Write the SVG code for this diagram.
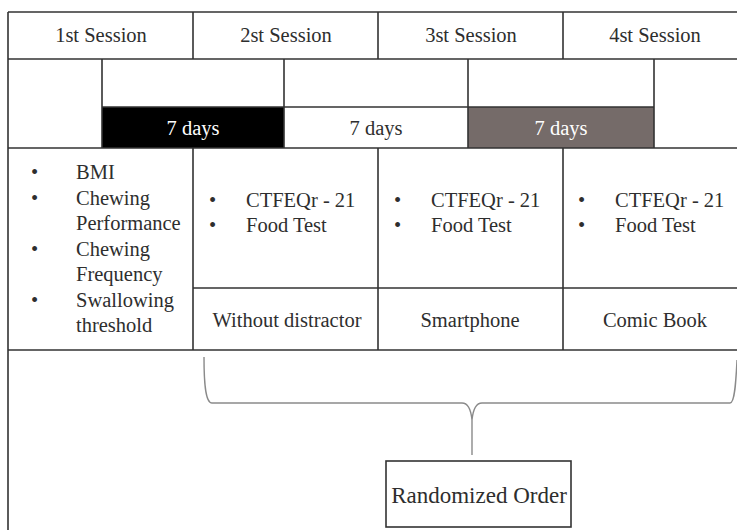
<svg xmlns="http://www.w3.org/2000/svg" width="737" height="530" viewBox="0 0 737 530">
<style>
text{font-family:'Liberation Serif',serif;font-size:20.5px;fill:#2e2e2e}
.c{text-anchor:middle}
.w{fill:#ffffff}
.g{stroke:#333;stroke-width:1.6;fill:none}
.brace{stroke:#8a8a8a;stroke-width:1.4;fill:none}
</style>
<rect width="737" height="530" fill="#fff"/>
<g id="grid">
<rect x="102" y="107" width="182" height="41" fill="#000"/>
<rect x="468" y="107" width="186" height="41" fill="#756b69"/>
<path class="g" d="M8,12 H737 M8,12 V530 M8,59 H737 M8,148 H737 M8,350 H737 M193,12 V59 M378,12 V59 M563,12 V59 M102,59 V148 M284,59 V148 M468,59 V148 M654,59 V148 M102,107 H654 M193,148 V350 M378,148 V350 M563,148 V350 M193,288 H737"/>
</g>
<g font-family="Liberation Serif, serif" font-size="20.5">
<g id="session1"><text class="c" x="101" y="42">1st Session</text></g>
<g id="session2"><text class="c" x="286" y="42">2st Session</text></g>
<g id="session3"><text class="c" x="471" y="42">3st Session</text></g>
<g id="session4"><text class="c" x="655" y="42">4st Session</text></g>
<g id="interval1"><text class="c w" x="193" y="135">7 days</text></g>
<g id="interval2"><text class="c" x="376" y="135">7 days</text></g>
<g id="interval3"><text class="c w" x="561" y="135">7 days</text></g>
<g id="baseline">
<text x="31" y="179">•</text><text x="76" y="179">BMI</text>
<text x="31" y="204.5">•</text><text x="76" y="204.5">Chewing</text>
<text x="76" y="230">Performance</text>
<text x="31" y="255.5">•</text><text x="76" y="255.5">Chewing</text>
<text x="76" y="281">Frequency</text>
<text x="31" y="306.5">•</text><text x="76" y="306.5">Swallowing</text>
<text x="76" y="332">threshold</text>
</g>
<g id="tests2">
<text x="209" y="207">•</text><text x="246" y="207">CTFEQr - 21</text>
<text x="209" y="232">•</text><text x="246" y="232">Food Test</text>
</g>
<g id="tests3">
<text x="394" y="207">•</text><text x="431" y="207">CTFEQr - 21</text>
<text x="394" y="232">•</text><text x="431" y="232">Food Test</text>
</g>
<g id="tests4">
<text x="578" y="207">•</text><text x="615" y="207">CTFEQr - 21</text>
<text x="578" y="232">•</text><text x="615" y="232">Food Test</text>
</g>
<g id="cond1"><text class="c" x="287" y="327">Without distractor</text></g>
<g id="cond2"><text class="c" x="470" y="327">Smartphone</text></g>
<g id="cond3"><text class="c" x="655" y="327">Comic Book</text></g>
</g>
<g id="connectors">
<path class="brace" d="M204,357 C204,380 205,403 212,403 H462 C468,403 471,410 472,420 V455 M472,420 C473,410 476,403 482,403 H730 C735,403 736,380 737,360"/>
</g>
<g id="randomized">
<rect x="386" y="461" width="185" height="66" fill="#fff" stroke="#333" stroke-width="1.6"/>
<text class="c" x="479" y="503" font-family="Liberation Serif, serif" style="font-size:23px">Randomized Order</text>
</g>
</svg>
